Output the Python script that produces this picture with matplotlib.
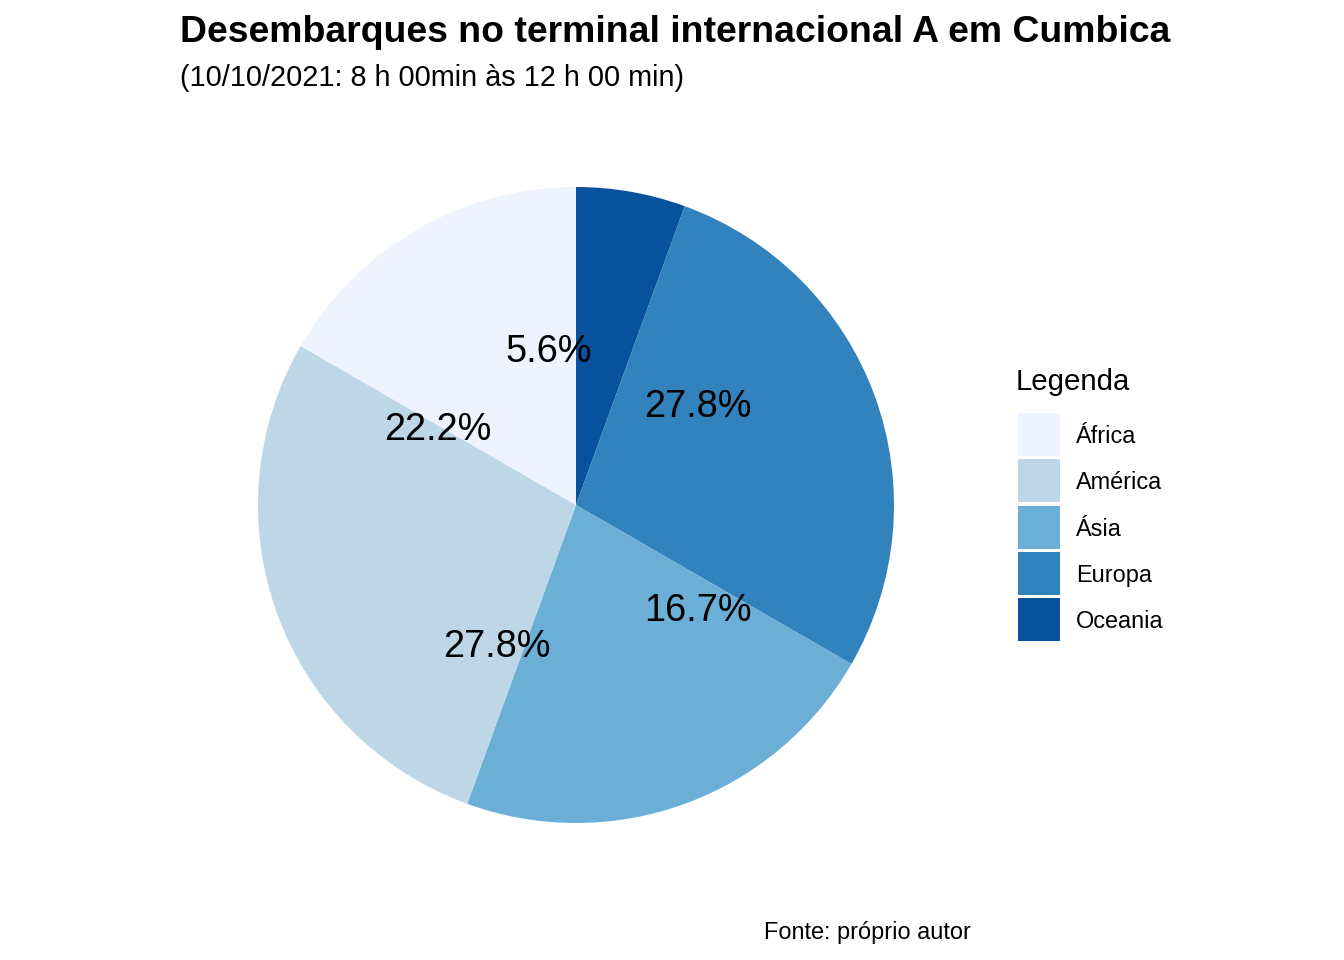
import numpy as np
import matplotlib
matplotlib.use("Agg")
import matplotlib.pyplot as plt
from matplotlib.patches import Rectangle
from matplotlib.transforms import offset_copy

plt.rcParams['font.family'] = ['Liberation Sans', 'DejaVu Sans']

# Data
categories = ['África', 'América', 'Ásia', 'Europa', 'Oceania']
counts = [3, 5, 4, 5, 1]
colors = ['#EFF3FF', '#BDD7E7', '#6BAED6', '#3182BD', '#08519C']
# order in which the labels were positioned (as in the original chart)
label_order = ['Europa', 'África', 'América', 'Ásia', 'Oceania']

title = 'Desembarques no terminal internacional A em Cumbica'
subtitle = '(10/10/2021: 8 h 00min às 12 h 00 min)'
caption = 'Fonte: próprio autor'
legend_title = 'Legenda'

W, H = 1344, 960
DPI = 192
fig = plt.figure(figsize=(7, 5), dpi=DPI)

cx, cy, R = 576, 505, 318
ax = fig.add_axes([(cx - R) / W, (H - cy - R) / H, 2 * R / W, 2 * R / H])

total = sum(counts)
# stacking: clockwise from top, last category first
pie_vals = counts[::-1]
pie_cols = colors[::-1]
ax.pie(pie_vals, colors=pie_cols, startangle=90, counterclock=False, radius=1,
       wedgeprops=dict(linewidth=0))
ax.set_xlim(-1, 1)
ax.set_ylim(-1, 1)
ax.axis('off')

# labels
lab_counts = [counts[categories.index(c)] for c in label_order]
cum = np.cumsum(lab_counts) - 0.5 * np.array(lab_counts)
tr = offset_copy(ax.transData, fig=fig, x=0, y=-4, units='dots')
for c, pos in zip(lab_counts, cum):
    frac = pos / total
    ang = np.deg2rad(90 - 360 * frac)
    r = 0.5
    ax.text(r * np.cos(ang), r * np.sin(ang), f'{100 * c / total:.1f}%',
            ha='center', va='center', fontsize=14.2, color='black',
            transform=tr)

# titles
fig.text(180 / W, 1 - 42 / H, title, fontsize=14.0, fontweight='bold',
         ha='left', va='baseline')
fig.text(180 / W, 1 - 86 / H, subtitle, fontsize=10.85, ha='left', va='baseline')
fig.text(971 / W, 1 - 933 / H, caption, fontsize=8.8, ha='right', va='center')

# legend
fig.text(1016 / W, 1 - 382 / H, legend_title, fontsize=11, ha='left', va='center')
top0 = 413
pitch = 46.3
for i, (cat, col) in enumerate(zip(categories, colors)):
    y0 = top0 + i * pitch
    fig.add_artist(Rectangle((1018 / W, 1 - (y0 + 43) / H), 42 / W, 43 / H,
                             transform=fig.transFigure, facecolor=col,
                             edgecolor='none'))
    fig.text(1076 / W, 1 - (y0 + 23.5) / H, cat, fontsize=8.8,
             ha='left', va='center')

fig.savefig('out.png', dpi=DPI)
